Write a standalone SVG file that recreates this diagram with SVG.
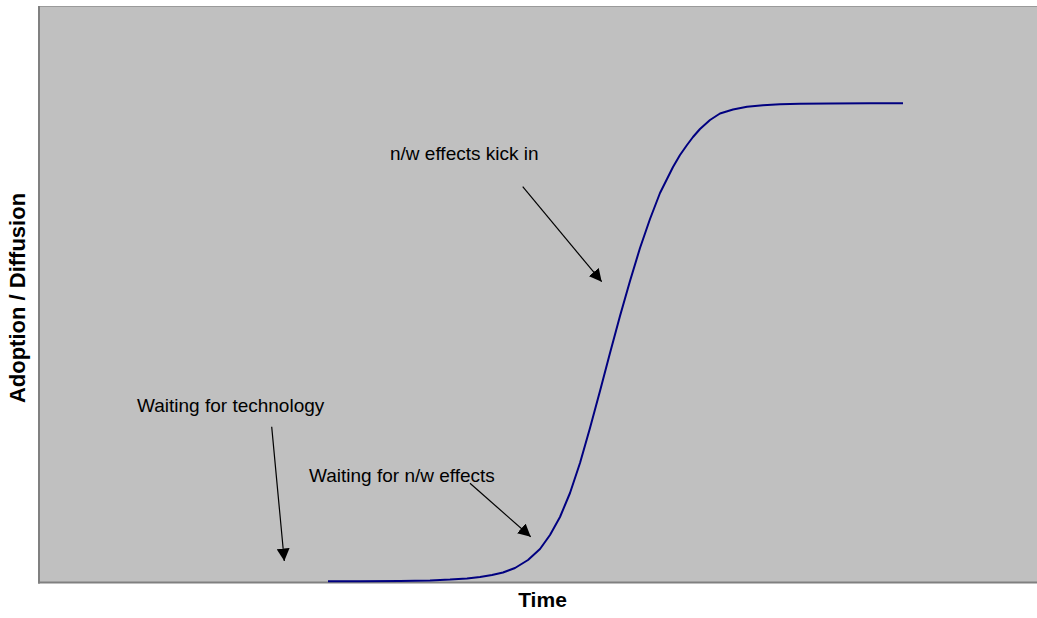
<svg xmlns="http://www.w3.org/2000/svg" width="1037" height="618" viewBox="0 0 1037 618">
<style>
.lbl{font-family:"Liberation Sans",Arial,sans-serif;font-size:19px;fill:#000}
.ax{font-family:"Liberation Sans",Arial,sans-serif;font-size:21px;font-weight:bold;fill:#000}
.arr{stroke:#000;stroke-width:1.2;fill:none;marker-end:url(#ah)}
</style>
<defs>
<marker id="ah" markerUnits="userSpaceOnUse" markerWidth="14" markerHeight="13" refX="12.5" refY="6.5" orient="auto">
<path d="M0,0 L12.5,6.5 L0,13 z" fill="#000"/>
</marker>
</defs>
<rect width="1037" height="618" fill="#fff"/>
<g id="plot">
<rect x="39" y="7" width="998" height="575" fill="#C0C0C0"/>
<line x1="38" y1="6.5" x2="1037" y2="6.5" stroke="#9a9a9a" stroke-width="1"/>
<line x1="39" y1="6" x2="39" y2="583.5" stroke="#808080" stroke-width="2"/>
<line x1="38" y1="582.5" x2="1037" y2="582.5" stroke="#808080" stroke-width="1.8"/>
</g>
<g id="curve">
<polyline fill="none" stroke="#000080" stroke-width="2" stroke-linejoin="round" stroke-linecap="butt" points="328,581.3 360,581.2 400,580.9 430,580.4 450,579.6 467,578.4 480,577 492,575 503,572.5 515,568 528,560 540,549 550,535 560,517 570,493 580,463 590,428 600,391 610,353 620,316 630,281 640,248 650,219 660,193 667,179 673,167 680,155 687,145 693,137 700,129 710,120 720,113.5 733,109.5 747,106.8 763,105.2 780,104.2 800,103.7 830,103.4 870,103.2 903,103.2"/>
</g>
<g id="connectors">
<line class="arr" x1="522.7" y1="186.7" x2="601.7" y2="281.7"/>
<line class="arr" x1="271.7" y1="426.7" x2="284.3" y2="561"/>
<line class="arr" x1="470" y1="483.3" x2="530.7" y2="536.7"/>
</g>
<g id="label-kick-in"><text class="lbl" x="390" y="160">n/w effects kick in</text></g>
<g id="label-tech"><text class="lbl" x="137" y="412">Waiting for technology</text></g>
<g id="label-nw"><text class="lbl" x="309" y="482">Waiting for n/w effects</text></g>
<g id="axis-x"><text class="ax" x="542.5" y="607" text-anchor="middle">Time</text></g>
<g id="axis-y"><text class="ax" style="font-size:22px" transform="translate(24.5,298) rotate(-90)" x="0" y="0" text-anchor="middle">Adoption / Diffusion</text></g>
</svg>
